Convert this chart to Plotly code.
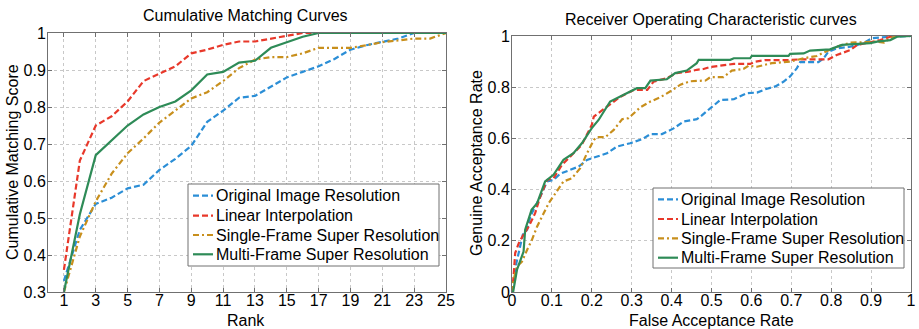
import plotly.graph_objects as go

# ---------------- CMC data ----------------
ranks = list(range(1, 26))
cmc_original = [0.33, 0.468, 0.538, 0.555, 0.58, 0.59, 0.63, 0.66, 0.695, 0.76, 0.79, 0.825, 0.83,
                0.855, 0.88, 0.895, 0.91, 0.93, 0.955, 0.967, 0.975, 0.985, 1.0, 1.0, 1.0]
cmc_linear = [0.36, 0.655, 0.75, 0.775, 0.815, 0.87, 0.89, 0.91, 0.945, 0.955, 0.968, 0.977, 0.977,
              0.985, 0.992, 1.0, 1.0, 1.0, 1.0, 1.0, 1.0, 1.0, 1.0, 1.0, 1.0]
cmc_single = [0.30, 0.45, 0.545, 0.62, 0.675, 0.715, 0.758, 0.79, 0.823, 0.84, 0.87, 0.905, 0.928,
              0.935, 0.935, 0.945, 0.96, 0.96, 0.96, 0.967, 0.975, 0.98, 0.985, 0.985, 1.0]
cmc_multi = [0.30, 0.51, 0.67, 0.71, 0.75, 0.78, 0.80, 0.815, 0.845, 0.888, 0.895, 0.92, 0.925,
             0.96, 0.975, 0.99, 1.0, 1.0, 1.0, 1.0, 1.0, 1.0, 1.0, 1.0, 1.0]
cmc_ticks = list(range(1, 26, 2))

# ---------------- ROC data ----------------
roc_orig_far = [0, 0.004, 0.011, 0.021, 0.027, 0.038, 0.046, 0.054, 0.071, 0.088, 0.104, 0.121, 0.146,
                0.167, 0.188, 0.213, 0.238, 0.263, 0.296, 0.326, 0.347, 0.376, 0.405, 0.430, 0.463,
                0.472, 0.497, 0.522, 0.556, 0.589, 0.614, 0.635, 0.66, 0.681, 0.697, 0.714, 0.722,
                0.768, 0.781, 0.793, 0.814, 0.848, 0.881, 0.902, 0.948, 1.0]
roc_orig_gar = [0, 0.035, 0.113, 0.178, 0.224, 0.243, 0.295, 0.321, 0.373, 0.432, 0.438, 0.462, 0.477,
                0.49, 0.516, 0.529, 0.542, 0.568, 0.581, 0.597, 0.617, 0.617, 0.639, 0.666, 0.675,
                0.685, 0.718, 0.750, 0.753, 0.777, 0.779, 0.792, 0.803, 0.822, 0.842, 0.874, 0.898,
                0.898, 0.913, 0.939, 0.952, 0.958, 0.972, 0.991, 0.997, 1.0]

roc_lin_far = [0, 0.004, 0.008, 0.017, 0.029, 0.042, 0.058, 0.071, 0.088, 0.104, 0.125, 0.150, 0.175,
               0.2, 0.205, 0.238, 0.272, 0.305, 0.339, 0.355, 0.388, 0.413, 0.443, 0.463, 0.48, 0.497,
               0.556, 0.597, 0.610, 0.635, 0.697, 0.722, 0.793, 0.814, 0.848, 0.865, 0.890, 0.923,
               0.948, 0.97, 1.0]
roc_lin_gar = [0, 0.061, 0.152, 0.191, 0.224, 0.256, 0.308, 0.373, 0.438, 0.444, 0.496, 0.536, 0.575,
               0.653, 0.685, 0.724, 0.763, 0.789, 0.789, 0.822, 0.835, 0.855, 0.861, 0.868, 0.871,
               0.879, 0.891, 0.891, 0.900, 0.906, 0.906, 0.909, 0.909, 0.926, 0.945, 0.965, 0.972,
               0.984, 0.997, 1.0, 1.0]

roc_single_far = [0, 0.004, 0.0125, 0.025, 0.038, 0.05, 0.063, 0.079, 0.092, 0.109, 0.129, 0.150, 0.171,
                  0.188, 0.205, 0.213, 0.234, 0.255, 0.276, 0.292, 0.322, 0.347, 0.372, 0.397, 0.422,
                  0.446, 0.485, 0.497, 0.530, 0.551, 0.580, 0.593, 0.614, 0.651, 0.697, 0.731, 0.764,
                  0.781, 0.814, 0.848, 0.915, 0.932, 0.948, 0.965, 1.0]
roc_single_gar = [0, 0.048, 0.1, 0.119, 0.165, 0.204, 0.256, 0.308, 0.347, 0.386, 0.432, 0.444, 0.484,
                  0.542, 0.594, 0.605, 0.605, 0.633, 0.675, 0.679, 0.722, 0.744, 0.761, 0.784, 0.810,
                  0.823, 0.826, 0.839, 0.839, 0.865, 0.871, 0.884, 0.88, 0.894, 0.90, 0.913, 0.922,
                  0.935, 0.958, 0.974, 0.978, 0.974, 0.991, 1.0, 1.0]

roc_multi_far = [0, 0.003, 0.0125, 0.029, 0.033, 0.049, 0.063, 0.083, 0.104, 0.129, 0.154, 0.175, 0.2,
                 0.217, 0.246, 0.288, 0.313, 0.334, 0.347, 0.388, 0.409, 0.438, 0.463, 0.468, 0.547,
                 0.556, 0.597, 0.601, 0.693, 0.697, 0.731, 0.747, 0.797, 0.827, 0.898, 0.915, 0.948,
                 0.965, 1.0]
roc_multi_gar = [0, 0.002, 0.087, 0.158, 0.243, 0.321, 0.347, 0.432, 0.458, 0.516, 0.542, 0.581, 0.64,
                 0.672, 0.744, 0.777, 0.796, 0.796, 0.826, 0.831, 0.855, 0.865, 0.894, 0.907, 0.907,
                 0.913, 0.913, 0.922, 0.922, 0.930, 0.932, 0.943, 0.948, 0.965, 0.972, 0.978, 0.984,
                 0.997, 1.0]
roc_ticks = [0, 0.1, 0.2, 0.3, 0.4, 0.5, 0.6, 0.7, 0.8, 0.9, 1]

names = ["Original Image Resolution", "Linear Interpolation",
         "Single-Frame Super Resolution", "Multi-Frame Super Resolution"]
colors = ["#2b8ed6", "#e8382a", "#c88f1c", "#2e8b57"]
dashes = ["6px,3px", "6px,3px", "6px,3px,2px,3px", "solid"]

FONT = "Liberation Sans, Arial, sans-serif"
W, H = 919, 329
def px(x):
    return x / W
def py(y):
    return 1 - y / H

fig = go.Figure()

cmc_series = [cmc_original, cmc_linear, cmc_single, cmc_multi]
for n, c, d, ys in zip(names, colors, dashes, cmc_series):
    fig.add_trace(go.Scatter(x=ranks, y=ys, mode="lines", name=n, showlegend=False,
                             line=dict(color=c, dash=d, width=2.2),
                             xaxis="x", yaxis="y"))

roc_series = [(roc_orig_far, roc_orig_gar), (roc_lin_far, roc_lin_gar),
              (roc_single_far, roc_single_gar), (roc_multi_far, roc_multi_gar)]
for n, c, d, (xs, ys) in zip(names, colors, dashes, roc_series):
    fig.add_trace(go.Scatter(x=xs, y=ys, mode="lines", name=n, showlegend=False,
                             line=dict(color=c, dash=d, width=2.2),
                             xaxis="x2", yaxis="y2"))

axis_common = dict(showline=True, linecolor="#707070", linewidth=1, mirror="ticks",
                   ticks="inside", ticklen=4, tickcolor="#707070", automargin=False,
                   showgrid=True, gridcolor="#c8c8c8", griddash="dot", gridwidth=1,
                   zeroline=False, tickfont=dict(family=FONT, size=16, color="#000"))

fig.update_layout(
    width=W, height=H, margin=dict(l=0, r=0, t=0, b=0, autoexpand=False),
    paper_bgcolor="white", plot_bgcolor="white",
    font=dict(family=FONT, color="#000"),
    showlegend=False,
    xaxis=dict(domain=[px(48), px(446)], range=[0, 25], tickvals=cmc_ticks,
               anchor="y", ticklabelstandoff=-6, **axis_common),
    yaxis=dict(domain=[py(292), py(33)], range=[0.3, 1],
               tickvals=[0.3, 0.4, 0.5, 0.6, 0.7, 0.8, 0.9, 1],
               ticktext=["0.3", "0.4", "0.5", "0.6", "0.7", "0.8", "0.9", "1"],
               anchor="x", ticklabelstandoff=-2, **axis_common),
    xaxis2=dict(domain=[px(512), px(911)], range=[0, 1], tickvals=roc_ticks,
                ticktext=[str(t) for t in roc_ticks], anchor="y2", ticklabelstandoff=-6,
                **axis_common),
    yaxis2=dict(domain=[py(292), py(36)], range=[0, 1],
                tickvals=[0, 0.2, 0.4, 0.6, 0.8, 1], ticktext=["0", "0.2", "0.4", "0.6", "0.8", "1"],
                anchor="x2", ticklabelstandoff=-2, **axis_common),
)

# ---- manual legends (MATLAB-style compact boxes) ----
legend_boxes = [
    dict(x0=188, x1=439, y0=184, y1=266, line_x0=193, line_x1=213, text_x=214,
         rows=[195.7, 215.7, 235.0, 254.3]),
    dict(x0=653, x1=904, y0=188, y1=268, line_x0=658, line_x1=678, text_x=679,
         rows=[199.3, 219.0, 238.3, 257.7]),
]
for lb in legend_boxes:
    fig.add_shape(type="rect", xref="paper", yref="paper",
                  x0=px(lb["x0"]), x1=px(lb["x1"]), y0=py(lb["y1"]), y1=py(lb["y0"]),
                  line=dict(color="#707070", width=1), fillcolor="white", layer="above")
    for n, c, d, ry in zip(names, colors, dashes, lb["rows"]):
        fig.add_shape(type="line", xref="paper", yref="paper",
                      x0=px(lb["line_x0"]), x1=px(lb["line_x1"]), y0=py(ry), y1=py(ry),
                      line=dict(color=c, width=2.2, dash=d), layer="above")
        fig.add_annotation(text=n, x=px(lb["text_x"]), y=py(ry), xref="paper", yref="paper",
                           xanchor="left", yanchor="middle", showarrow=False,
                           font=dict(family=FONT, size=16, color="#000"))

ann = [
    dict(text="Cumulative Matching Curves", x=px(246), y=py(15), angle=0),
    dict(text="Receiver Operating Characteristic curves", x=px(711), y=py(19), angle=0),
    dict(text="Rank", x=px(246), y=py(320), angle=0),
    dict(text="False Acceptance Rate", x=px(711), y=py(320), angle=0),
    dict(text="Cumulative Matching Score", x=px(12), y=py(162), angle=-90),
    dict(text="Genuine Acceptance Rate", x=px(476), y=py(163), angle=-90),
]
for a in ann:
    fig.add_annotation(text=a["text"], x=a["x"], y=a["y"], xref="paper", yref="paper",
                       xanchor="center", yanchor="middle", showarrow=False, textangle=a["angle"],
                       font=dict(family=FONT, size=16, color="#000"))

fig.write_html("out.html")
